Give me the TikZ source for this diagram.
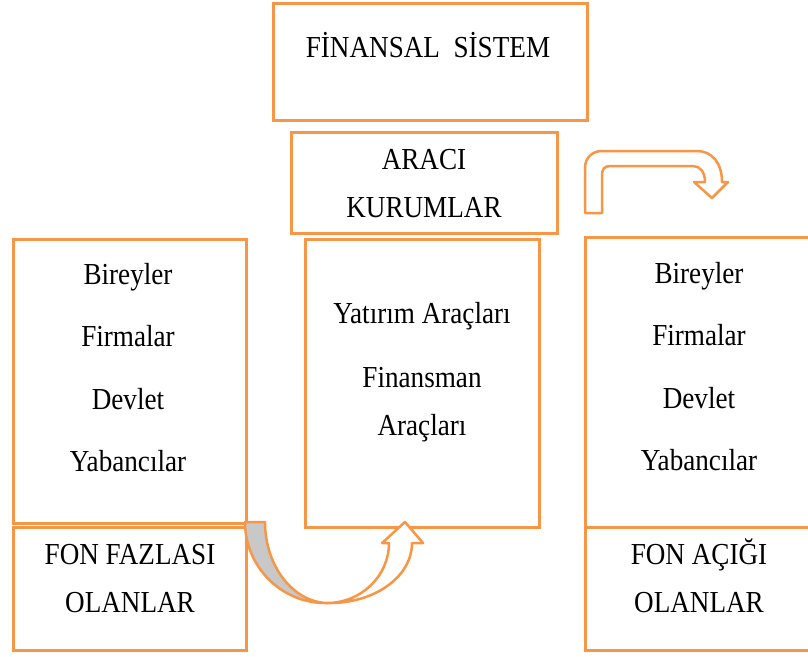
\documentclass[tikz,border=0pt]{standalone}
\usepackage{fontspec}
\setmainfont{Liberation Serif}[FakeStretch=0.89]
\usetikzlibrary{positioning}
\definecolor{accent}{RGB}{247,150,70}
\definecolor{shade}{RGB}{200,200,200}

\begin{document}
\begin{tikzpicture}[
  x=1pt, y=-1pt,
  panel/.style={draw=accent, line width=3pt, inner sep=0pt, outer sep=0pt},
  txt/.style={anchor=base, align=center, inner sep=0pt, font=\fontsize{30.5}{48}\selectfont},
  ribbon/.style={draw=accent, line width=2.5pt, line join=round}
]
\useasboundingbox (0,0) rectangle (808,656);

% Top: system and intermediaries
\node[panel, minimum width=314pt, minimum height=117pt] (sistem) at (430,61.5) {};
\node[panel, minimum width=266pt, minimum height=101pt] (araci) at (424,182.5) {};

% Left column
\node[panel, minimum width=233pt, minimum height=284pt] (solust) at (129.5,381) {};
\node[panel, minimum width=233pt, minimum height=123pt] (solalt) at (129.5,588.5) {};

% Middle column
\node[panel, minimum width=234pt, minimum height=288pt] (orta) at (422,383) {};

% Right column
\node[panel, minimum width=227pt, minimum height=290pt] (sagust) at (698.5,382) {};
\node[panel, minimum width=227pt, minimum height=123pt] (sagalt) at (698.5,588.5) {};

% Texts (base = last line)
\node[txt] (tsistem) at (428,57) {FİNANSAL\ \ SİSTEM};
\node[txt] (taraci) at (424,217) {ARACI\\KURUMLAR};

\node[txt] (tbir1) at (128,284) {Bireyler};
\node[txt] (tfir1) at (128,346) {Firmalar};
\node[txt] (tdev1) at (128,409) {Devlet};
\node[txt] (tyab1) at (128,471) {Yabancılar};
\node[txt] (tfazla) at (130,612) {FON FAZLASI\\OLANLAR};

\node[txt] (tyatirim) at (422,323) {Yatırım Araçları};
\node[txt] (tfinans) at (422,435) {Finansman\\Araçları};

\node[txt] (tbir2) at (699,283) {Bireyler};
\node[txt] (tfir2) at (699,345) {Firmalar};
\node[txt] (tdev2) at (699,408) {Devlet};
\node[txt] (tyab2) at (699,470) {Yabancılar};
\node[txt] (tacik) at (699,612) {FON AÇIĞI\\OLANLAR};

% Curved arrow: fund surplus -> intermediaries
\filldraw[ribbon, fill=shade] (245,522) -- (265,522)
  .. controls (265,566) and (293,602) .. (327,603)
  .. controls (282,604) and (245,567) .. (245,522) -- cycle;
\filldraw[ribbon, fill=white] (327,603)
  .. controls (361,603) and (389,576) .. (389,543)
  -- (382,543) -- (405,522) -- (423,543) -- (412,543)
  .. controls (412,577) and (374,604) .. (327,603) -- cycle;

% Bent arrow: intermediaries -> fund deficit
\filldraw[ribbon, fill=white] (585,213) -- (585,168)
  .. controls (585,158) and (592,151) .. (602,151) -- (697,151)
  .. controls (712,151) and (722,163) .. (722,182)
  -- (728,182) -- (712,198) -- (694,182) -- (705,182)
  .. controls (705,172) and (700,166) .. (693,166) -- (610,166)
  .. controls (604,166) and (602,170) .. (602,175) -- (602,213) -- cycle;

\end{tikzpicture}
\end{document}
